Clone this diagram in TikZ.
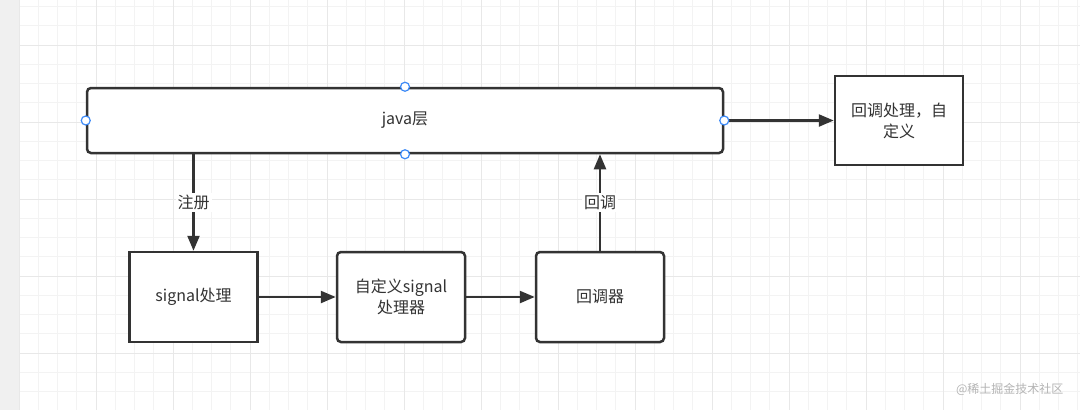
\documentclass[tikz,border=0pt]{standalone}
\usepackage{fontspec}
\setmainfont{Noto Sans CJK SC}
\usetikzlibrary{arrows.meta}
\definecolor{ink}{HTML}{333333}
\definecolor{gridminor}{HTML}{F3F3F3}
\definecolor{gridmajor}{HTML}{E8E8E8}
\definecolor{strip}{HTML}{F0F0F0}
\definecolor{handle}{HTML}{3D8AF7}
\definecolor{wm}{HTML}{B4B4B4}
\tikzset{
  box/.style={draw=ink, line width=2.5pt, fill=white, minimum width=128pt, minimum height=90pt, align=center, font=\fontsize{16}{21}\selectfont, text=ink, inner sep=2pt},
  rbox/.style={box, rounded corners=4pt},
  conn/.style={draw=ink, line width=2.4pt, -{Triangle[length=15pt,width=12pt]}},
  lbl/.style={fill=white, font=\fontsize{16}{21}\selectfont, text=ink, inner sep=2pt},
  hdl/.style={draw=handle, fill=white, line width=1.2pt},
}
\begin{document}
\begin{tikzpicture}[x=1pt,y=-1pt]
\useasboundingbox (0,0) rectangle (1080,410);
\fill[white] (0,0) rectangle (1080,410);
% grid
\foreach \k in {0,...,55} {
  \draw[gridminor, line width=1pt] ({19+19.25*\k},0) -- ({19+19.25*\k},410);
}
\foreach \k in {0,...,21} {
  \draw[gridminor, line width=1pt] (19,{6.7+19.25*\k}) -- (1080,{6.7+19.25*\k});
}
\foreach \k in {0,...,14} {
  \draw[gridmajor, line width=1pt] ({19+77*\k},0) -- ({19+77*\k},410);
}
\foreach \k in {0,...,5} {
  \draw[gridmajor, line width=1pt] (19,{45+77*\k}) -- (1080,{45+77*\k});
}
\fill[strip] (0,0) rectangle (19,410);
% nodes
\node[rbox, minimum width=636pt, minimum height=65pt] (java) at (405,120.5) {java层};
\node[box, minimum width=128pt, minimum height=89pt] (cb) at (899,120.5) {回调处理，自\\定义};
\node[box] (sig) at (193.5,297) {signal处理};
\node[rbox] (cus) at (401,297) {自定义signal\\处理器};
\node[rbox] (cbr) at (600,297) {回调器};
% connectors
\draw[conn] (java.east) -- (cb.west);
\draw[conn] (java.south -| sig.north) -- node[lbl] {注册} (sig.north);
\draw[conn] (cbr.north) -- node[lbl] {回调} (cbr.north |- java.south);
\draw[conn] (sig.east) -- (cus.west);
\draw[conn] (cus.east) -- (cbr.west);
% handles
\foreach \a in {west,east,north,south} {
  \draw[hdl] (java.\a) circle (4.5pt);
}
\node[text=wm, font=\fontsize{12}{14}\selectfont, anchor=east] (wmk) at (1067,389) {@稀土掘金技术社区};
\end{tikzpicture}
\end{document}
